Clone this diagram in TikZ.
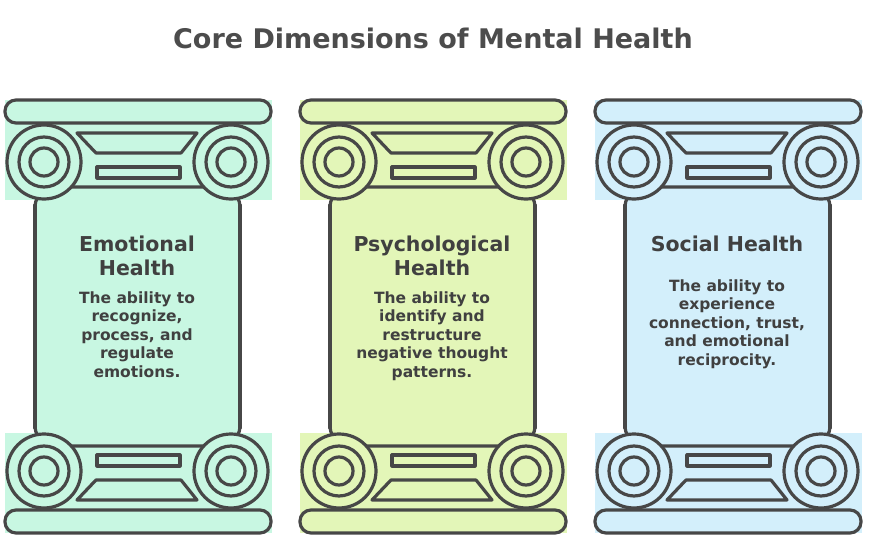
\documentclass[tikz,border=0pt]{standalone}
\usepackage{fontspec}
\setmainfont{DejaVu Sans}
\definecolor{mint}{HTML}{C8F7E2}
\definecolor{limeg}{HTML}{E3F6B8}
\definecolor{skyb}{HTML}{D3EFFB}
\begin{document}
\begin{tikzpicture}[x=1pt,y=-1pt,
  ln/.style={draw=black!72,line width=3.2pt,line join=round,line cap=round},
  ttl/.style={font=\bfseries\fontsize{27}{30}\selectfont,text=black!70,align=center},
  hd/.style={font=\bfseries\fontsize{20.5}{24}\selectfont,text=black!75,align=center},
  bd/.style={font=\bfseries\fontsize{15.5}{18.5}\selectfont,text=black!75,align=center}]
\useasboundingbox (0,0) rectangle (879,543);
\node[ttl] (title) at (433,38) {Core Dimensions of Mental Health};
\newcommand{\capitpart}{%
   \fill[colfill] (5,0) rectangle (272,100);
   \draw[ln,fill=colfill] (77,33) -- (197,33) -- (181,53) -- (96,53) -- cycle;
   \draw[ln,fill=colfill] (97,67) rectangle (180,78);
   \draw[ln] (35,106) .. controls (35,93) and (52,87) .. (72,87) -- (203,87) .. controls (223,87) and (240,93) .. (240,106);
   \foreach \cx in {44,231}{
    \draw[ln,fill=colfill] (\cx,62) circle (37);
    \draw[ln] (\cx,62) circle (25);
    \draw[ln] (\cx,62) circle (14);}}
\newcommand{\column}[6]{%
 \colorlet{colfill}{#2}
 \begin{scope}[shift={(#1,0)}]
  \fill[colfill] (35,190) rectangle (240,445);
  \draw[ln] (35,205) -- (35,428) (240,205) -- (240,428);
  \begin{scope}[shift={(0,100)}]\capitpart\end{scope}
  \begin{scope}[shift={(0,533)},yscale=-1]\capitpart\end{scope}
  \draw[ln,rounded corners=11pt,fill=colfill] (5,100) rectangle (271,123);
  \draw[ln,rounded corners=11pt,fill=colfill] (5,510) rectangle (271,533);
  \node[hd] (#5h) at (137,#6) {#3};
  \node[bd,anchor=north] (#5b) at (137,#6+32) {#4};
 \end{scope}}
\column{0}{mint}{Emotional\\Health}{The ability to\\recognize,\\process, and\\regulate\\emotions.}{emo}{256}
\column{295}{limeg}{Psychological\\Health}{The ability to\\identify and\\restructure\\negative thought\\patterns.}{psy}{256}
\column{590}{skyb}{Social Health}{The ability to\\experience\\connection, trust,\\and emotional\\reciprocity.}{soc}{244}
\end{tikzpicture}
\end{document}
